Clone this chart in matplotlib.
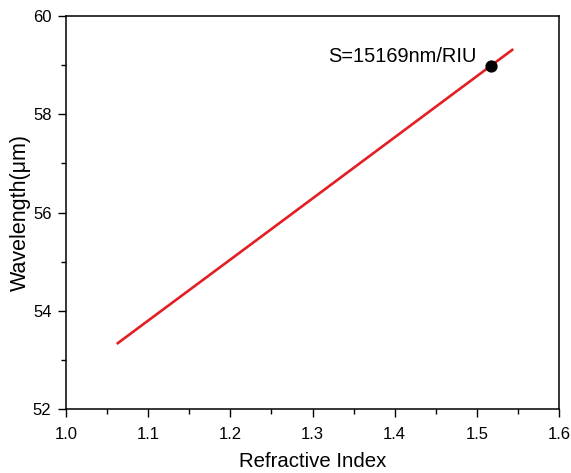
import matplotlib
matplotlib.use('Agg')
import matplotlib.pyplot as plt
from matplotlib.ticker import MultipleLocator

# data
ri = [1.063, 1.253, 1.543]
wavelength = [53.34, 55.70, 59.31]
mark_ri = [1.517]
mark_wl = [58.98]
label = 'S=15169nm/RIU'

plt.rcParams['font.family'] = ['Liberation Sans', 'DejaVu Sans']

fig = plt.figure(figsize=(5.71, 4.73), dpi=100)
ax = fig.add_axes([66 / 571, 1 - 409 / 473, 493 / 571, 393 / 473])

ax.plot(ri, wavelength, color='#e31e24', lw=1.9)
ax.plot(mark_ri, mark_wl, 'o', color='black', ms=7.8)
ax.text(1.319, 59.17, label, fontsize=14.4, va='center', ha='left')

ax.set_xlim(1.0, 1.6)
ax.set_ylim(52, 60)
ax.xaxis.set_major_locator(MultipleLocator(0.1))
ax.xaxis.set_minor_locator(MultipleLocator(0.05))
ax.yaxis.set_major_locator(MultipleLocator(2))
ax.yaxis.set_minor_locator(MultipleLocator(1))
ax.tick_params(which='both', direction='out', top=False, right=False, labelsize=12, width=1)
ax.tick_params(which='major', length=6)
ax.tick_params(which='minor', length=3.5)
ax.tick_params(axis='x', which='major', pad=7)
ax.tick_params(axis='y', which='major', pad=4.5)
ax.set_xticklabels([f'{v:.1f}' for v in ax.get_xticks()])
for s in ax.spines.values():
    s.set_linewidth(1.1)

ax.set_xlabel('Refractive Index', fontsize=14.7, labelpad=7.5)
ax.set_ylabel('Wavelength(\u03bcm)', fontsize=15.5, labelpad=1.5)

fig.savefig('out.png', dpi=100)
